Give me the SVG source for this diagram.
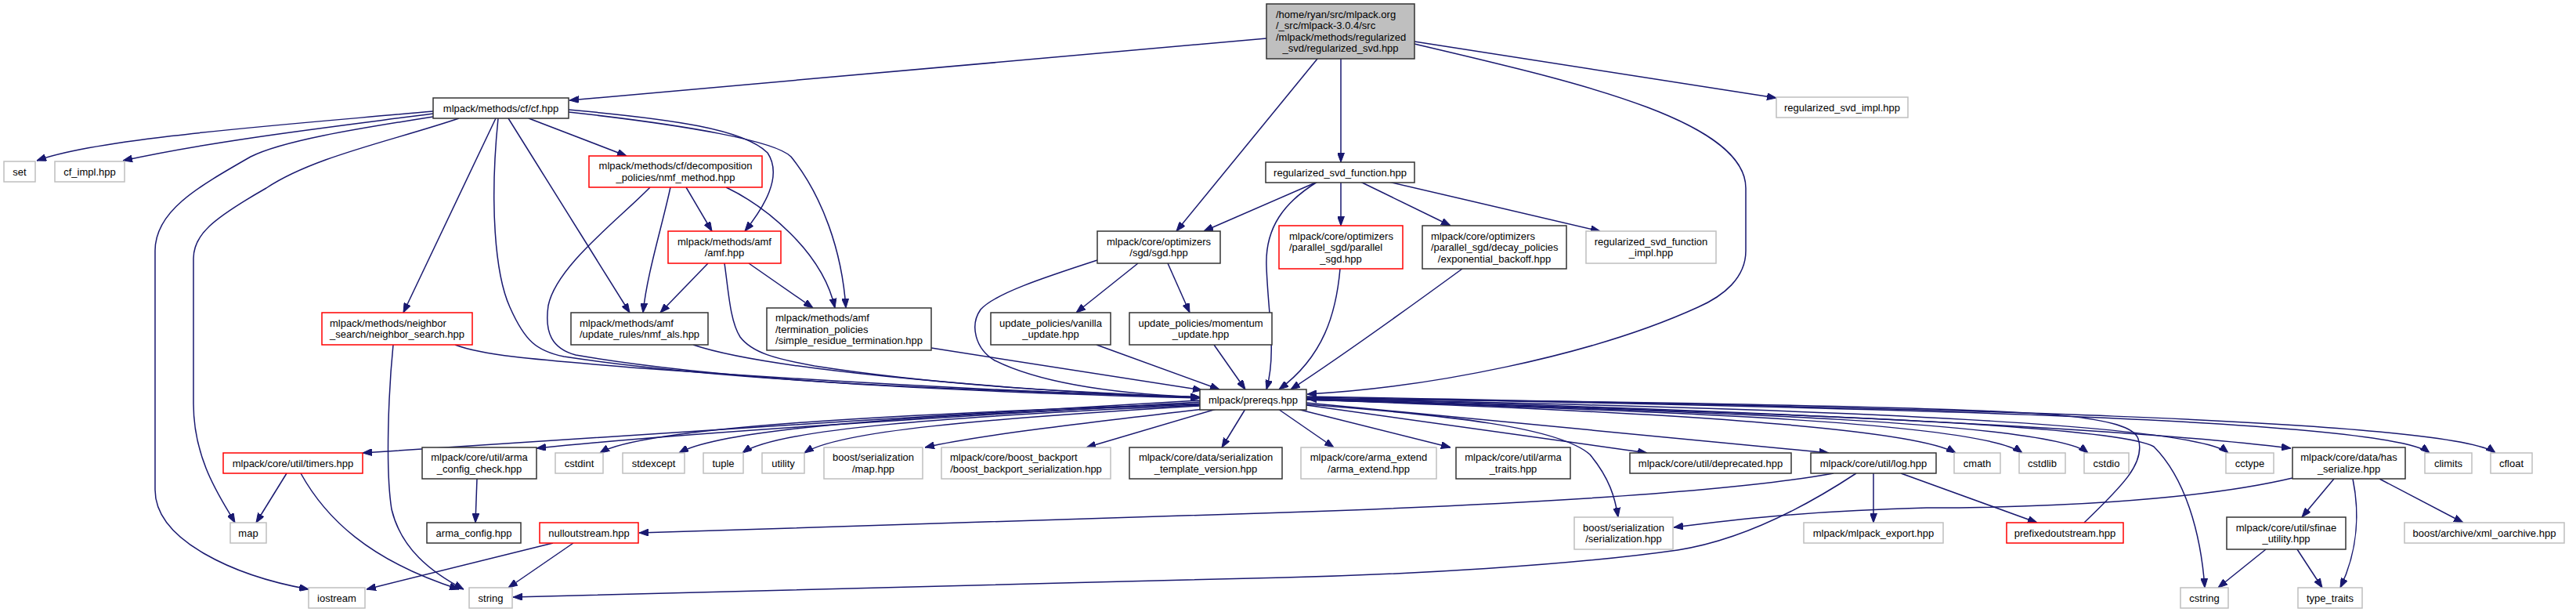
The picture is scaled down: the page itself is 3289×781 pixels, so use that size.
<svg xmlns="http://www.w3.org/2000/svg" width="3289" height="781" viewBox="0 0 3289 781">
<style>
rect{stroke-width:1.5}
.n{fill:#fff;stroke:#333}
.r{fill:#fff;stroke:#ff0000}
.g{fill:#fff;stroke:#bfbfbf}
.t{fill:#bfbfbf;stroke:#333}
text{font-family:"Liberation Sans",Arial,sans-serif;font-size:13px;fill:#000}
.m{text-anchor:middle}
.e path{fill:none;stroke:#191970;stroke-width:1.5;marker-end:url(#a)}
</style>
<defs>
<marker id="a" viewBox="0 0 12 9" refX="12" refY="4.5" markerWidth="12" markerHeight="9" orient="auto" markerUnits="userSpaceOnUse"><path d="M0,0 L12,4.5 L0,9 z" fill="#191970" stroke="#191970" stroke-width="1"/></marker>
</defs>
<rect width="3289" height="781" fill="#fff"/>
<g class="e" id="edges">
<path d="M1617,49 L727,128"/>
<path d="M1682,75 L1502,295"/>
<path d="M1712,75 L1712,207"/>
<path d="M1806,53 L2268,125"/>
<path d="M1806,56 C1990,100 2229,150 2229,240 L2229,320 C2229,355 2200,378 2168,392 C2030,455 1820,495 1669,503"/>
<path d="M553,142 C380,158 130,175 47,205"/>
<path d="M553,145 C440,160 280,178 157,205"/>
<path d="M553,149 C450,165 360,180 320,200 C250,240 198,270 198,320 L198,625 C198,690 300,735 394,752"/>
<path d="M586,151 C500,180 400,200 340,240 C270,280 247,300 247,330 L247,515 C247,590 285,640 300,667"/>
<path d="M633,151 L515,399"/>
<path d="M636,151 C625,260 632,350 651,392 C670,435 685,448 720,455 C950,490 1300,500 1532,507"/>
<path d="M649,151 L804,399"/>
<path d="M675,151 L800,199"/>
<path d="M726,140 C860,152 950,165 980,195 C1000,225 975,265 951,295"/>
<path d="M726,143 C880,160 990,180 1010,200 C1050,250 1075,320 1080,393"/>
<path d="M876,239 L909,295"/>
<path d="M856,239 C845,290 826,350 821,399"/>
<path d="M830,239 C790,280 710,340 700,390 C695,425 705,445 735,453 C950,490 1300,502 1532,508"/>
<path d="M927,239 C975,262 1050,320 1066,393"/>
<path d="M904,336 L843,399"/>
<path d="M956,336 L1038,393"/>
<path d="M925,336 C930,370 932,410 945,430 C960,450 990,458 1040,467 C1200,492 1400,503 1532,507"/>
<path d="M502,440 C496,500 492,600 500,650 C512,700 550,730 592,752"/>
<path d="M581,440 C620,455 700,460 820,470 C1100,490 1350,502 1532,507"/>
<path d="M885,440 C950,462 1100,480 1300,495 C1400,502 1480,505 1532,507"/>
<path d="M1189,444 L1535,498"/>
<path d="M1401,332 C1330,355 1270,375 1252,395 C1238,415 1245,445 1270,460 C1330,490 1430,503 1532,507"/>
<path d="M1453,336 L1374,399"/>
<path d="M1491,336 L1519,399"/>
<path d="M1400,440 L1557,497"/>
<path d="M1550,440 L1590,497"/>
<path d="M1682,232 L1537,295"/>
<path d="M1682,232 C1640,258 1615,290 1617,340 C1619,400 1630,450 1617,497"/>
<path d="M1712,232 L1712,288"/>
<path d="M1737,232 L1852,288"/>
<path d="M1773,232 L2043,295"/>
<path d="M1711,343 C1706,400 1690,455 1633,497"/>
<path d="M1867,343 C1830,370 1720,450 1648,497"/>
<path d="M1532,511 C1200,530 700,560 463,578"/>
<path d="M1532,513 C1250,530 900,550 685,572"/>
<path d="M1532,515 C1150,528 820,545 766,578"/>
<path d="M1532,516 C1150,530 920,548 867,578"/>
<path d="M1532,517 C1200,532 990,548 948,578"/>
<path d="M1532,518 C1250,535 1070,550 1027,578"/>
<path d="M1536,522 C1400,538 1250,555 1181,571"/>
<path d="M1553,522 L1387,571"/>
<path d="M1590,522 L1560,571"/>
<path d="M1632,522 L1703,571"/>
<path d="M1656,522 L1852,571"/>
<path d="M1668,517 L2103,578"/>
<path d="M1668,514 L2335,578"/>
<path d="M1668,516 C1850,530 1990,545 2030,580 C2055,610 2062,635 2066,660"/>
<path d="M1668,510 C2100,525 2440,545 2497,578"/>
<path d="M1668,510 C2150,525 2530,540 2582,578"/>
<path d="M1668,510 C2200,525 2620,540 2666,578"/>
<path d="M1668,509 C2200,525 2700,540 2750,570 C2790,610 2810,680 2815,750"/>
<path d="M1668,509 C2300,520 2800,540 2845,578"/>
<path d="M1668,508 C2300,525 2750,550 2925,572"/>
<path d="M1668,507 C2400,520 3050,535 3102,578"/>
<path d="M1668,506 C2450,520 3130,535 3186,578"/>
<path d="M2661,667 C2710,620 2740,590 2730,560 C2720,530 2600,525 2400,520 C2100,512 1800,510 1669,509"/>
<path d="M2341,604 C2200,630 1900,645 1640,654 C1300,664 1000,674 816,680"/>
<path d="M2370,604 C2300,650 2220,690 2142,702 C2000,722 1800,733 1640,737 C1300,745 900,756 655,762"/>
<path d="M2392,604 L2392,667"/>
<path d="M2427,604 L2601,667"/>
<path d="M2927,610 C2800,640 2600,648 2460,648 C2300,652 2200,665 2137,673"/>
<path d="M2980,611 L2939,660"/>
<path d="M3004,611 C3012,650 3012,700 2988,750"/>
<path d="M3038,611 L3145,667"/>
<path d="M2893,701 L2832,750"/>
<path d="M2933,701 L2965,750"/>
<path d="M609,611 L607,667"/>
<path d="M366,604 L327,667"/>
<path d="M384,604 C415,660 470,715 586,752"/>
<path d="M706,693 L468,752"/>
<path d="M732,693 L649,750"/>
</g>
<g id="regularized_svd"><rect class="t" x="1617" y="5" width="189" height="70"/><text x="1629" y="22.75">/home/ryan/src/mlpack.org</text><text x="1629" y="37.25">/_src/mlpack-3.0.4/src</text><text x="1629" y="51.75">/mlpack/methods/regularized</text><text class="m" x="1711.5" y="66.25">_svd/regularized_svd.hpp</text></g>
<g id="cf"><rect class="n" x="553" y="125" width="173" height="26"/><text class="m" x="639.5" y="142.5">mlpack/methods/cf/cf.hpp</text></g>
<g id="set"><rect class="g" x="5" y="206" width="40" height="26"/><text class="m" x="25" y="223.5">set</text></g>
<g id="cf_impl"><rect class="g" x="70" y="206" width="89" height="26"/><text class="m" x="114.5" y="223.5">cf_impl.hpp</text></g>
<g id="nmf_method"><rect class="r" x="752" y="199" width="221" height="40"/><text class="m" x="862.5" y="216.25">mlpack/methods/cf/decomposition</text><text class="m" x="862.5" y="230.75">_policies/nmf_method.hpp</text></g>
<g id="amf"><rect class="r" x="853" y="295" width="144" height="41"/><text class="m" x="925" y="312.75">mlpack/methods/amf</text><text class="m" x="925" y="327.25">/amf.hpp</text></g>
<g id="sgd"><rect class="n" x="1401" y="295" width="157" height="41"/><text class="m" x="1479.5" y="312.75">mlpack/core/optimizers</text><text class="m" x="1479.5" y="327.25">/sgd/sgd.hpp</text></g>
<g id="rsf"><rect class="n" x="1616" y="207" width="190" height="26"/><text class="m" x="1711" y="224.5">regularized_svd_function.hpp</text></g>
<g id="rsi"><rect class="g" x="2268" y="124" width="168" height="26"/><text class="m" x="2352" y="141.5">regularized_svd_impl.hpp</text></g>
<g id="psgd"><rect class="r" x="1633" y="288" width="158" height="55"/><text x="1646" y="305.5">mlpack/core/optimizers</text><text x="1646" y="320">/parallel_sgd/parallel</text><text class="m" x="1712" y="334.5">_sgd.hpp</text></g>
<g id="expo"><rect class="n" x="1816" y="288" width="184" height="55"/><text x="1827" y="305.5">mlpack/core/optimizers</text><text x="1827" y="320">/parallel_sgd/decay_policies</text><text class="m" x="1908" y="334.5">/exponential_backoff.hpp</text></g>
<g id="rsfi"><rect class="g" x="2025" y="295" width="166" height="41"/><text class="m" x="2108" y="312.75">regularized_svd_function</text><text class="m" x="2108" y="327.25">_impl.hpp</text></g>
<g id="nsearch"><rect class="r" x="411" y="399" width="192" height="41"/><text x="421" y="416.75">mlpack/methods/neighbor</text><text class="m" x="507" y="431.25">_search/neighbor_search.hpp</text></g>
<g id="nmf_als"><rect class="n" x="729" y="399" width="175" height="41"/><text x="740" y="416.75">mlpack/methods/amf</text><text class="m" x="816.5" y="431.25">/update_rules/nmf_als.hpp</text></g>
<g id="srt"><rect class="n" x="979" y="393" width="210" height="54"/><text x="990" y="410">mlpack/methods/amf</text><text x="990" y="424.5">/termination_policies</text><text class="m" x="1084" y="439">/simple_residue_termination.hpp</text></g>
<g id="vanilla"><rect class="n" x="1265" y="399" width="153" height="41"/><text class="m" x="1341.5" y="416.75">update_policies/vanilla</text><text class="m" x="1341.5" y="431.25">_update.hpp</text></g>
<g id="momentum"><rect class="n" x="1442" y="399" width="182" height="41"/><text class="m" x="1533" y="416.75">update_policies/momentum</text><text class="m" x="1533" y="431.25">_update.hpp</text></g>
<g id="prereqs"><rect class="n" x="1532" y="497" width="136" height="26"/><text class="m" x="1600" y="514.5">mlpack/prereqs.hpp</text></g>
<g id="timers"><rect class="r" x="285" y="578" width="178" height="26"/><text class="m" x="374" y="595.5">mlpack/core/util/timers.hpp</text></g>
<g id="arma_config_check"><rect class="n" x="539" y="571" width="146" height="40"/><text class="m" x="612" y="588.25">mlpack/core/util/arma</text><text class="m" x="612" y="602.75">_config_check.hpp</text></g>
<g id="cstdint"><rect class="g" x="709" y="578" width="61" height="26"/><text class="m" x="739.5" y="595.5">cstdint</text></g>
<g id="stdexcept"><rect class="g" x="795" y="578" width="79" height="26"/><text class="m" x="834.5" y="595.5">stdexcept</text></g>
<g id="tuple"><rect class="g" x="898" y="578" width="51" height="26"/><text class="m" x="923.5" y="595.5">tuple</text></g>
<g id="utility"><rect class="g" x="973" y="578" width="54" height="26"/><text class="m" x="1000" y="595.5">utility</text></g>
<g id="bsmap"><rect class="g" x="1052" y="571" width="126" height="40"/><text class="m" x="1115" y="588.25">boost/serialization</text><text class="m" x="1115" y="602.75">/map.hpp</text></g>
<g id="bbp"><rect class="g" x="1202" y="571" width="216" height="40"/><text x="1213" y="588.25">mlpack/core/boost_backport</text><text class="m" x="1310" y="602.75">/boost_backport_serialization.hpp</text></g>
<g id="stv"><rect class="n" x="1442" y="571" width="195" height="40"/><text class="m" x="1539.5" y="588.25">mlpack/core/data/serialization</text><text class="m" x="1539.5" y="602.75">_template_version.hpp</text></g>
<g id="arma_extend"><rect class="g" x="1661" y="571" width="173" height="40"/><text class="m" x="1747.5" y="588.25">mlpack/core/arma_extend</text><text class="m" x="1747.5" y="602.75">/arma_extend.hpp</text></g>
<g id="arma_traits"><rect class="n" x="1859" y="571" width="146" height="40"/><text class="m" x="1932" y="588.25">mlpack/core/util/arma</text><text class="m" x="1932" y="602.75">_traits.hpp</text></g>
<g id="deprecated"><rect class="n" x="2081" y="578" width="206" height="26"/><text class="m" x="2184" y="595.5">mlpack/core/util/deprecated.hpp</text></g>
<g id="log"><rect class="n" x="2312" y="578" width="160" height="26"/><text class="m" x="2392" y="595.5">mlpack/core/util/log.hpp</text></g>
<g id="cmath"><rect class="g" x="2495" y="578" width="59" height="26"/><text class="m" x="2524.5" y="595.5">cmath</text></g>
<g id="cstdlib"><rect class="g" x="2578" y="578" width="59" height="26"/><text class="m" x="2607.5" y="595.5">cstdlib</text></g>
<g id="cstdio"><rect class="g" x="2661" y="578" width="57" height="26"/><text class="m" x="2689.5" y="595.5">cstdio</text></g>
<g id="cctype"><rect class="g" x="2842" y="578" width="61" height="26"/><text class="m" x="2872.5" y="595.5">cctype</text></g>
<g id="has_serialize"><rect class="n" x="2927" y="571" width="144" height="40"/><text class="m" x="2999" y="588.25">mlpack/core/data/has</text><text class="m" x="2999" y="602.75">_serialize.hpp</text></g>
<g id="climits"><rect class="g" x="3096" y="578" width="60" height="26"/><text class="m" x="3126" y="595.5">climits</text></g>
<g id="cfloat"><rect class="g" x="3180" y="578" width="53" height="26"/><text class="m" x="3206.5" y="595.5">cfloat</text></g>
<g id="map"><rect class="g" x="294" y="667" width="46" height="26"/><text class="m" x="317" y="684.5">map</text></g>
<g id="arma_config"><rect class="n" x="545" y="667" width="120" height="26"/><text class="m" x="605" y="684.5">arma_config.hpp</text></g>
<g id="nulloutstream"><rect class="r" x="689" y="667" width="126" height="26"/><text class="m" x="752" y="684.5">nulloutstream.hpp</text></g>
<g id="bss"><rect class="g" x="2010" y="660" width="126" height="41"/><text class="m" x="2073" y="677.75">boost/serialization</text><text class="m" x="2073" y="692.25">/serialization.hpp</text></g>
<g id="mlpack_export"><rect class="g" x="2303" y="667" width="178" height="26"/><text class="m" x="2392" y="684.5">mlpack/mlpack_export.hpp</text></g>
<g id="prefixedoutstream"><rect class="r" x="2562" y="667" width="149" height="26"/><text class="m" x="2636.5" y="684.5">prefixedoutstream.hpp</text></g>
<g id="sfinae"><rect class="n" x="2843" y="660" width="152" height="41"/><text class="m" x="2919" y="677.75">mlpack/core/util/sfinae</text><text class="m" x="2919" y="692.25">_utility.hpp</text></g>
<g id="xml_oarchive"><rect class="g" x="3070" y="667" width="204" height="26"/><text class="m" x="3172" y="684.5">boost/archive/xml_oarchive.hpp</text></g>
<g id="iostream"><rect class="g" x="394" y="750" width="72" height="26"/><text class="m" x="430" y="767.5">iostream</text></g>
<g id="string"><rect class="g" x="599" y="750" width="55" height="26"/><text class="m" x="626.5" y="767.5">string</text></g>
<g id="cstring"><rect class="g" x="2784" y="750" width="61" height="26"/><text class="m" x="2814.5" y="767.5">cstring</text></g>
<g id="type_traits"><rect class="g" x="2934" y="750" width="82" height="26"/><text class="m" x="2975" y="767.5">type_traits</text></g>
</svg>
